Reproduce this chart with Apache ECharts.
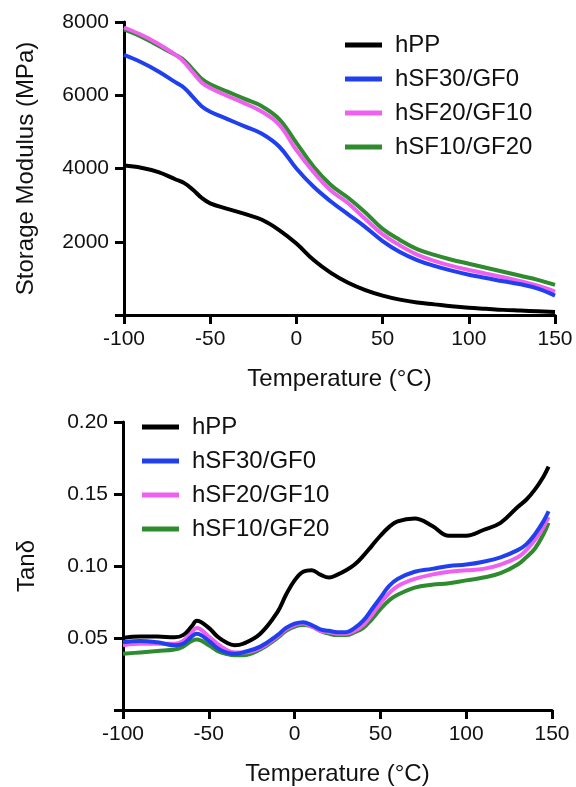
<!DOCTYPE html>
<html>
<head>
<meta charset="utf-8">
<script src="https://cdn.jsdelivr.net/npm/echarts@6/dist/echarts.min.js"></script>
<style>
  html, body { margin: 0; padding: 0; background: #fff; }
  #main { width: 576px; height: 787px; }
</style>
</head>
<body>
<div id="main"></div>
<script>
var names = ['hPP', 'hSF30/GF0', 'hSF20/GF10', 'hSF10/GF20'];
var colors = ['#000000', '#2040f0', '#f060f0', '#2e8b2e'];

// storage modulus (MPa)
var tempE = [-100, -90, -80, -70, -65, -60, -55, -50, -40, -30, -20, -10,
  0, 10, 20, 30, 40, 50, 60, 70, 80, 90, 100, 110, 120, 130, 140, 150];
var eHPP = [4080, 4020, 3900, 3700, 3600, 3420, 3200, 3050, 2900, 2760, 2600, 2320,
  1950, 1500, 1150, 880, 680, 530, 420, 340, 290, 240, 200, 170, 140, 120, 100, 80];
var eSF30 = [7100, 6900, 6650, 6350, 6200, 5950, 5700, 5550, 5350, 5150, 4950, 4600,
  4000, 3500, 3100, 2750, 2400, 2020, 1720, 1500, 1340, 1210, 1100, 1010, 920, 840, 720, 530];
var eSF20 = [7850, 7650, 7400, 7100, 6900, 6620, 6350, 6200, 5980, 5780, 5550, 5200,
  4500, 3900, 3400, 3050, 2620, 2200, 1900, 1650, 1480, 1340, 1230, 1130, 1030, 920, 800, 640];
var eSF10 = [7800, 7600, 7350, 7100, 6950, 6700, 6450, 6300, 6100, 5900, 5700, 5350,
  4700, 4050, 3550, 3200, 2800, 2350, 2050, 1800, 1640, 1510, 1400, 1290, 1180, 1070, 960, 820];

// tan delta
var tempT = [-100, -90, -80, -70, -65, -60, -57, -50, -45, -40, -35, -30, -20, -10, -5,
  0, 5, 10, 15, 20, 25, 30, 35, 40, 45, 50, 55, 60, 70, 80, 90, 100, 110, 120, 130, 135, 140, 145, 148];
var tHPP = [0.050, 0.051, 0.051, 0.0505, 0.052, 0.058, 0.062, 0.057, 0.051, 0.047, 0.045, 0.046, 0.053, 0.068, 0.080,
  0.090, 0.096, 0.097, 0.094, 0.092, 0.094, 0.097, 0.101, 0.107, 0.114, 0.121, 0.127, 0.131, 0.133, 0.128, 0.121, 0.121, 0.125, 0.130, 0.141, 0.146, 0.153, 0.162, 0.169];
var tSF30 = [0.047, 0.048, 0.047, 0.045, 0.046, 0.051, 0.053, 0.048, 0.043, 0.040, 0.039, 0.040, 0.044, 0.052, 0.057,
  0.060, 0.061, 0.059, 0.056, 0.055, 0.054, 0.054, 0.057, 0.062, 0.070, 0.078, 0.086, 0.091, 0.096, 0.098, 0.100, 0.101, 0.103, 0.106, 0.111, 0.115, 0.122, 0.131, 0.138];
var tSF20 = [0.045, 0.046, 0.046, 0.046, 0.048, 0.054, 0.057, 0.051, 0.046, 0.042, 0.040, 0.040, 0.043, 0.051, 0.056,
  0.059, 0.060, 0.058, 0.055, 0.054, 0.053, 0.053, 0.055, 0.059, 0.066, 0.074, 0.081, 0.086, 0.091, 0.094, 0.096, 0.097, 0.098, 0.101, 0.106, 0.111, 0.118, 0.127, 0.134];
var tSF10 = [0.039, 0.040, 0.041, 0.042, 0.044, 0.048, 0.049, 0.045, 0.041, 0.039, 0.038, 0.038, 0.042, 0.050, 0.055,
  0.058, 0.059, 0.058, 0.055, 0.053, 0.052, 0.052, 0.054, 0.057, 0.063, 0.070, 0.076, 0.080, 0.085, 0.087, 0.088, 0.090, 0.092, 0.095, 0.101, 0.106, 0.112, 0.122, 0.130];

var xTicks = [-100, -50, 0, 50, 100, 150];

function zip(xs, ys) {
  return xs.map(function (x, i) { return [x, ys[i]]; });
}

var font = "'Liberation Sans', Arial, sans-serif";
var axisLine = { onZero: false, lineStyle: { color: '#000', width: 3 } };
var axisTick = { length: 9, lineStyle: { color: '#000', width: 3 } };

function xAxisFor(gridIndex) {
  return {
    gridIndex: gridIndex, type: 'value', min: xTicks[0], max: xTicks[xTicks.length - 1], interval: 50,
    name: 'Temperature (°C)', nameLocation: 'middle', nameGap: 52,
    nameTextStyle: { fontFamily: font, fontSize: 24, color: '#111' },
    axisLine: axisLine, axisTick: axisTick, splitLine: { show: false },
    axisLabel: { fontFamily: font, fontSize: 21, color: '#111', margin: 14 }
  };
}

var chartDom = document.getElementById('main');
var myChart = echarts.init(chartDom);
var option;

var eSets = [eHPP, eSF30, eSF20, eSF10];
var tSets = [tHPP, tSF30, tSF20, tSF10];
var series = [];
eSets.forEach(function (d, i) {
  series.push({
    name: names[i], type: 'line', xAxisIndex: 0, yAxisIndex: 0,
    data: zip(tempE, d), smooth: 0.4, showSymbol: false,
    color: colors[i], lineStyle: { width: 4 }, z: 10 - i
  });
});
tSets.forEach(function (d, i) {
  series.push({
    name: names[i], type: 'line', xAxisIndex: 1, yAxisIndex: 1,
    data: zip(tempT, d), smooth: 0.4, showSymbol: false,
    color: colors[i], lineStyle: { width: 4 }, z: 10 - i
  });
});

var legendBase = {
  orient: 'vertical', icon: 'rect', itemWidth: 37, itemHeight: 5, itemGap: 10,
  textStyle: { fontFamily: font, fontSize: 24, color: '#111', lineHeight: 24, padding: [0, 0, 0, 8] },
  data: names
};

option = {
  animation: false,
  backgroundColor: '#fff',
  grid: [
    { left: 124, right: 21, top: 22, height: 293 },
    { left: 123, right: 24, top: 422, height: 290 }
  ],
  legend: [
    Object.assign({}, legendBase, { left: 340, top: 28 }),
    Object.assign({}, legendBase, { left: 137, top: 410 })
  ],
  xAxis: [xAxisFor(0), xAxisFor(1)],
  yAxis: [
    {
      gridIndex: 0, type: 'value', min: 0, max: 8000, interval: 2000,
      name: 'Storage Modulus (MPa)', nameLocation: 'middle', nameGap: 86,
      nameTextStyle: { fontFamily: font, fontSize: 24, color: '#111' },
      axisLine: axisLine, axisTick: axisTick, splitLine: { show: false },
      axisLabel: {
        fontFamily: font, fontSize: 21, color: '#111', margin: 15,
        formatter: function (v) { return v === 0 ? '' : String(v); }
      }
    },
    {
      gridIndex: 1, type: 'value', min: 0, max: 0.2, interval: 0.05,
      name: 'Tanδ', nameLocation: 'middle', nameGap: 84,
      nameTextStyle: { fontFamily: font, fontSize: 24, color: '#111' },
      axisLine: axisLine, axisTick: axisTick, splitLine: { show: false },
      axisLabel: {
        fontFamily: font, fontSize: 21, color: '#111', margin: 15,
        formatter: function (v) { return v === 0 ? '' : v.toFixed(2); }
      }
    }
  ],
  series: series
};

option && myChart.setOption(option);
</script>
</body>
</html>
